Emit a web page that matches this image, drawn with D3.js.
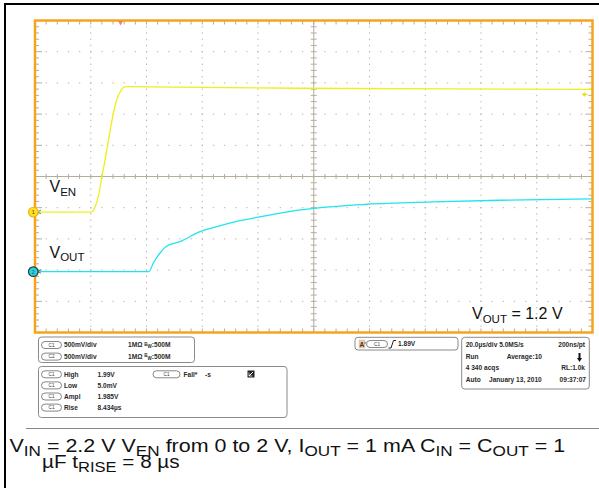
<!DOCTYPE html>
<html><head><meta charset="utf-8">
<script src="https://cdn.jsdelivr.net/npm/d3@7"></script>
<style>html,body{margin:0;padding:0;background:#fff}svg{display:block}</style>
</head><body>
<svg id="c" width="599" height="488"></svg>
<script>
// ---- data (time in µs, voltage in V) ----
const enTime  = [0, 20.3, 21.2, 22.2, 24.5, 29.3, 30.9, 31.9, 32.7, 59.2, 95.1, 148.9, 200];
const enVolt  = [0.005, 0.005, 0.053, 0.165, 0.689, 1.80, 1.96, 2.008, 2.014, 2.003, 1.989, 1.979, 1.971];
const outTime = [0, 40.9, 42.4, 44.8, 47.3, 52.0, 59.2, 65.2, 73.5, 83.1, 95.1, 119.1, 142.8, 166.8, 200];
const outVolt = [0, 0, 0.135, 0.295, 0.412, 0.481, 0.641, 0.721, 0.817, 0.897, 0.989, 1.080, 1.117, 1.144, 1.165];
const voltsPerDiv = 0.5;
const ch1OffsetDiv = -1.15, ch2OffsetDiv = -3.05;
const triggerTime = 30.7, triggerLevel = 1.89;
const chanRows = [["C1","500mV/div"],["C2","500mV/div"]];
const measRows = [["High","1.99V"],["Low","5.0mV"],["Ampl","1.985V"],["Rise","8.434µs"]];
const captionLine1 = [["V",0],["IN",1],[" = 2.2 V V",0],["EN",1],[" from 0 to 2 V, I",0],["OUT",1],[" = 1 mA C",0],["IN",1],[" = C",0],["OUT",1],[" = 1",0]];
const captionLine2 = [["µF t",0],["RISE",1],[" = 8 µs",0]];

const svg = d3.select("#c");
const F = "'Liberation Sans', Arial, Helvetica, sans-serif";
const L = 35, R = 592.5, T = 20.5, B = 332.5;
const x = d3.scaleLinear().domain([0,200]).range([L,R]);
const y = d3.scaleLinear().domain([-5,5]).range([B,T]);

// outer black frame
svg.append("line").attr("x1",4).attr("x2",599).attr("y1",4).attr("y2",4).attr("stroke","#000").attr("stroke-width",2);
svg.append("line").attr("x1",5).attr("x2",5).attr("y1",3).attr("y2",488).attr("stroke","#000").attr("stroke-width",2);

const g = svg.append("g");
const gridC = "#b8b1a2", tickC = "#b5ad9c";
const majX = d3.range(20,200,20), minX = d3.range(0,200.001,4);
const majY = d3.range(-4,5,1), minY = d3.range(-5,5.001,0.2);

// dotted grid
majX.filter(t=>t!==100).forEach(t=>{
  minY.forEach(v=>{ g.append("rect").attr("x",x(t)-0.5).attr("y",y(v)-0.6).attr("width",1).attr("height",1.3).attr("fill",gridC); });
});
majY.filter(v=>v!==0).forEach(v=>{
  minX.forEach(t=>{ g.append("rect").attr("x",x(t)-0.6).attr("y",y(v)-0.5).attr("width",1.3).attr("height",1).attr("fill",gridC); });
});
// centre axes
g.append("line").attr("x1",L).attr("x2",R).attr("y1",y(0)).attr("y2",y(0)).attr("stroke",tickC).attr("stroke-width",1);
g.append("line").attr("x1",x(100)).attr("x2",x(100)).attr("y1",T).attr("y2",B).attr("stroke",tickC).attr("stroke-width",1);
minX.forEach(t=>{ g.append("line").attr("x1",x(t)).attr("x2",x(t)).attr("y1",y(0)-2.5).attr("y2",y(0)+2.5).attr("stroke",tickC); });
minY.forEach(v=>{ g.append("line").attr("x1",x(100)-3).attr("x2",x(100)+3).attr("y1",y(v)).attr("y2",y(v)).attr("stroke",tickC); });
// edge ticks
minX.forEach(t=>{
  g.append("line").attr("x1",x(t)).attr("x2",x(t)).attr("y1",T).attr("y2",T+4).attr("stroke",tickC);
  g.append("line").attr("x1",x(t)).attr("x2",x(t)).attr("y1",B-4).attr("y2",B).attr("stroke",tickC);
});
minY.forEach((v,i)=>{
  const len = (i%5===0)?7:4;
  g.append("line").attr("x1",L).attr("x2",L+len).attr("y1",y(v)).attr("y2",y(v)).attr("stroke",tickC);
  g.append("line").attr("x1",R-len).attr("x2",R).attr("y1",y(v)).attr("y2",y(v)).attr("stroke",tickC);
});

// traces
const line = (off)=> d3.line().x(d=>x(d[0])).y(d=>y(off + d[1]/voltsPerDiv)).curve(d3.curveMonotoneX);
g.append("path").datum(d3.zip(enTime,enVolt)).attr("d",line(ch1OffsetDiv)).attr("fill","none").attr("stroke","#efef1a").attr("stroke-width",1.3);
g.append("path").datum(d3.zip(outTime,outVolt)).attr("d",line(ch2OffsetDiv)).attr("fill","none").attr("stroke","#20e4ee").attr("stroke-width",1.3);

// plot frame
g.append("rect").attr("x",L).attr("y",T).attr("width",R-L).attr("height",B-T).attr("fill","none").attr("stroke","#f7a31c").attr("stroke-width",2.5);

// trigger position marker
const tx = x(triggerTime);
g.append("path").attr("d",`M${tx-2.5},${T+0.5} L${tx+2.5},${T+0.5} L${tx},${T+5} Z`).attr("fill","#f2826e");
// trigger level marker (right)
const ty = y(ch1OffsetDiv + triggerLevel/voltsPerDiv);
g.append("path").attr("d",`M${R-11},${ty} L${R-7},${ty-2.5} L${R-7},${ty+2.5} Z`).attr("fill","#e8e020");
g.append("line").attr("x1",R-8).attr("x2",R-5).attr("y1",ty).attr("y2",ty).attr("stroke","#e8e020").attr("stroke-width",1.2);

// channel markers
function chMarker(v, fill, stroke, label){
  const yy = y(v);
  g.append("path").attr("d",`M${L+6},${yy-2} L${L+2},${yy} L${L+6},${yy+1.5}`).attr("fill","none").attr("stroke","#555").attr("stroke-width",0.8);
  g.append("circle").attr("cx",33.3).attr("cy",yy).attr("r",4.8).attr("fill",fill).attr("stroke",stroke).attr("stroke-width",1.2);
  g.append("text").attr("x",33.3).attr("y",yy+2).attr("text-anchor","middle").attr("font-family",F).attr("font-size",5.5).attr("fill","#444").text(label);
}
chMarker(ch1OffsetDiv + enVolt[0]/voltsPerDiv, "#ffe21a", "#f5b020", "1");
chMarker(ch2OffsetDiv, "#22d6e2", "#2a3a3c", "2");

// trace labels
function subLabel(xx, yy, main, sub, rest, size, subSize){
  const t = svg.append("text").attr("x",xx).attr("y",yy).attr("font-family",F).attr("font-size",size).attr("fill","#111");
  t.append("tspan").text(main);
  t.append("tspan").attr("font-size",subSize).attr("dy",subSize*0.33).text(sub);
  if(rest) t.append("tspan").attr("dy",-subSize*0.33).text(rest);
  return t;
}
subLabel(49.5, 192, "V", "EN", null, 16, 11.5);
subLabel(49.5, 257.5, "V", "OUT", null, 16, 11.5);
subLabel(472, 319, "V", "OUT", " = 1.2 V", 16, 11.5);

// ---- readout boxes ----
const bf = 6.6, txtC = "#2a2a2a";
function box(x0,y0,w,h){ svg.append("rect").attr("x",x0).attr("y",y0).attr("width",w).attr("height",h).attr("rx",3).attr("fill","#fff").attr("stroke","#8a8a8a").attr("stroke-width",1); }
function pill(x0,cy,w,label){
  svg.append("rect").attr("x",x0).attr("y",cy-3.5).attr("width",w).attr("height",7).attr("rx",3.5).attr("fill","#fff").attr("stroke","#555").attr("stroke-width",0.7);
  svg.append("text").attr("x",x0+w/2).attr("y",cy+1.6).attr("text-anchor","middle").attr("font-family",F).attr("font-size",4.6).attr("fill","#333").text(label);
}
function txt(x0,cy,s,anchor){ return svg.append("text").attr("x",x0).attr("y",cy+2.4).attr("text-anchor",anchor||"start").attr("font-family",F).attr("font-size",bf).attr("font-weight","bold").attr("fill",txtC).text(s); }

box(38.5,337,156,25.5);
chanRows.forEach((r,i)=>{
  const cy = 345 + i*11.6;
  pill(41.5,cy,20,r[0]);
  txt(64,cy,r[1]);
  const t = txt(128,cy,"1MΩ ");
  t.append("tspan").attr("font-size",4.5).attr("dy",-1.8).text("B");
  t.append("tspan").attr("font-size",4.5).attr("dy",2.8).text("W");
  t.append("tspan").attr("dy",-1).text(":500M");
});

box(38.5,366.5,248.5,51);
measRows.forEach((r,i)=>{
  const cy = 374.3 + i*11.1;
  pill(41.5,cy,20,"C1");
  txt(64,cy,r[0]);
  txt(97.5,cy,r[1]);
});
pill(153,374.3,27,"C1");
txt(183.5,374.3,"Fall*");
txt(205,374.3,"-s");
svg.append("rect").attr("x",247.5).attr("y",370.5).attr("width",7).attr("height",7).attr("fill","#222");
svg.append("path").attr("d","M249,376 L253,372").attr("stroke","#fff").attr("stroke-width",1);
svg.append("path").attr("d","M249,372.5 L249,376 L252.5,376").attr("fill","none").attr("stroke","#fff").attr("stroke-width",0.7);

// trigger box
box(355,337.3,103,12.7);
svg.append("rect").attr("x",359).attr("y",340).attr("width",6).attr("height",8).attr("fill","#f3c99a").attr("stroke","#bbb").attr("stroke-width",0.4);
svg.append("text").attr("x",359.6).attr("y",346.5).attr("font-family",F).attr("font-size",6.5).attr("font-weight","bold").attr("fill","#333").text("A'");
pill(366.5,344,21,"C1");
svg.append("path").attr("d","M388.5,348 L391,348 L393.5,340.5 L396,340.5").attr("fill","none").attr("stroke","#222").attr("stroke-width",1);
txt(398,344,"1.89V");

// acquisition box
box(461.7,337.3,127.6,51.7);
txt(465.7,345,"20.0µs/div  5.0MS/s");
txt(585,345,"200ns/pt","end");
txt(465.7,356.7,"Run");
txt(506.7,356.7,"Average:10");
svg.append("rect").attr("x",578.5).attr("y",353).attr("width",2).attr("height",6).attr("fill","#111");
svg.append("path").attr("d","M577,358 L582,358 L579.5,362 Z").attr("fill","#111");
txt(465.7,367.9,"4 340 acqs");
txt(585,367.9,"RL:1.0k","end");
txt(465.7,379.3,"Auto");
txt(489,379.3,"January 13, 2010");
txt(586,379.3,"09:37:07","end");

// separator + caption
svg.append("line").attr("x1",26).attr("x2",599).attr("y1",428.5).attr("y2",428.5).attr("stroke","#888").attr("stroke-width",1);
function captionLine(x0, y0, parts, targetW){
  const t = svg.append("text").attr("x",x0).attr("y",y0).attr("font-family",F).attr("font-size",17.5).attr("fill","#111");
  let prev = 0;
  parts.forEach(([s,sub])=>{
    const sp = t.append("tspan").text(s);
    if(sub){ sp.attr("font-size",14); if(!prev) sp.attr("dy",4); }
    else if(prev){ sp.attr("dy",-4); }
    prev = sub;
  });
  const w = t.node().getBBox().width;
  const sx = targetW / w;
  t.attr("transform",`translate(${x0},0) scale(${sx},1) translate(${-x0},0)`);
}
captionLine(9.5, 452.5, captionLine1, 556);
captionLine(42, 468.5, captionLine2, 138);
</script>
</body></html>
